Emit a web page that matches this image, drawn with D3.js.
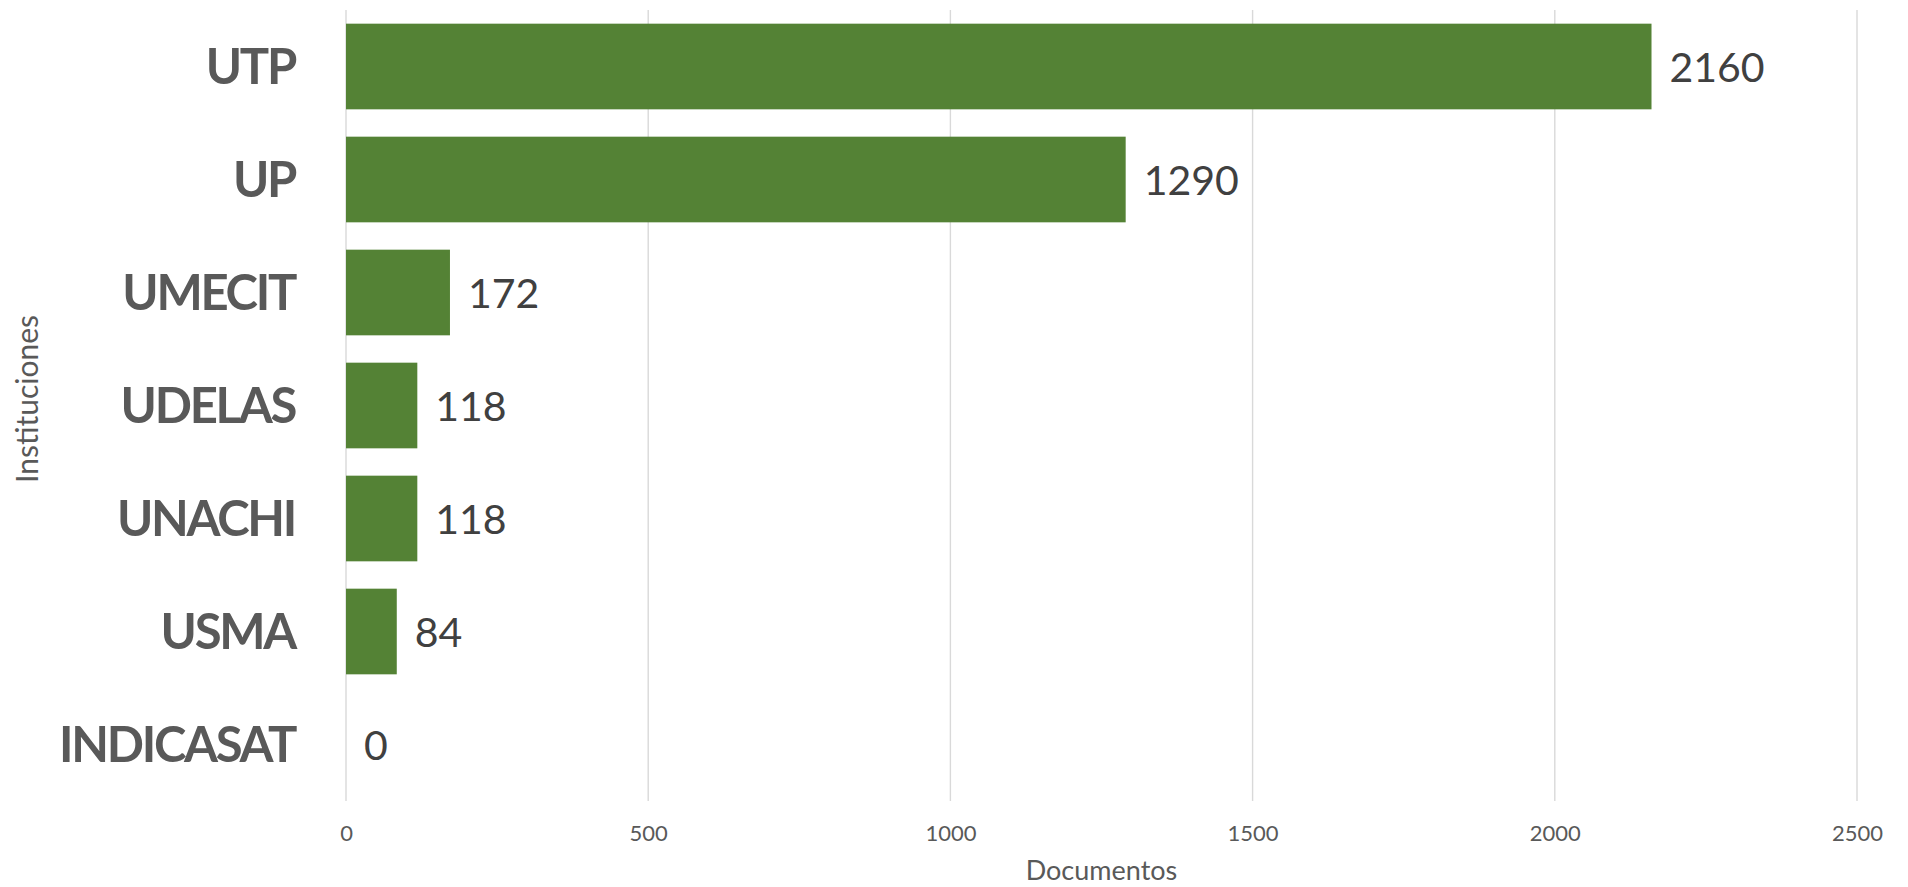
<!DOCTYPE html>
<html>
<head>
<meta charset="utf-8">
<script src="https://cdnjs.cloudflare.com/ajax/libs/d3/7.8.5/d3.min.js"></script>
<style>
  html, body { margin: 0; padding: 0; background: #ffffff; }
  svg { display: block; font-family: Lato, "Open Sans", sans-serif; }
</style>
</head>
<body>
<svg id="chart" width="1908" height="887"></svg>
<script>
// Documents per institution
const institutions = ["UTP", "UP", "UMECIT", "UDELAS", "UNACHI", "USMA", "INDICASAT"];
const documents = [2160, 1290, 172, 118, 118, 84, 0];
const xTicks = [0, 500, 1000, 1500, 2000, 2500];
const xTitle = "Documentos";
const yTitle = "Instituciones";

const rows = institutions.map((name, i) => ({ name, value: documents[i] }));

const svg = d3.select("#chart");
const plot = { left: 346, right: 1857, top: 10, bottom: 801 };

const x = d3.scaleLinear()
  .domain([0, 2500])
  .range([plot.left, plot.right]);

const y = d3.scaleBand()
  .domain(institutions)
  .range([plot.top, plot.bottom])
  .paddingInner(0.242)
  .paddingOuter(0.121);

// vertical gridlines
svg.append("g")
  .selectAll("line")
  .data(xTicks)
  .join("line")
  .attr("x1", d => x(d)).attr("x2", d => x(d))
  .attr("y1", plot.top).attr("y2", plot.bottom)
  .attr("stroke", "#d9d9d9")
  .attr("stroke-width", 1.4);

// bars
svg.append("g")
  .selectAll("rect")
  .data(rows)
  .join("rect")
  .attr("x", x(0))
  .attr("y", d => y(d.name))
  .attr("width", d => x(d.value) - x(0))
  .attr("height", y.bandwidth())
  .attr("fill", "#548235");

// value labels
svg.append("g")
  .selectAll("text")
  .data(rows)
  .join("text")
  .attr("x", d => x(d.value) + 18)
  .attr("y", d => y(d.name) + y.bandwidth() / 2)
  .attr("dy", "0.38em")
  .attr("font-size", 41)
  .attr("fill", "#404040")
  .text(d => d.value);

// category axis
const yAxis = svg.append("g")
  .attr("transform", `translate(${plot.left},0)`)
  .call(d3.axisLeft(y).tickSize(0).tickPadding(51));
yAxis.select(".domain").remove();
yAxis.selectAll("text")
  .attr("font-family", "Lato, 'Open Sans', sans-serif")
  .attr("font-size", 49)
  .attr("font-weight", 700)
  .attr("letter-spacing", -2.3)
  .attr("fill", "#595959")
  .attr("dy", "0.36em");

// value axis
const xAxis = svg.append("g")
  .attr("transform", `translate(0,${plot.bottom})`)
  .call(d3.axisBottom(x).tickValues(xTicks).tickFormat(d3.format("d")).tickSize(0).tickPadding(24));
xAxis.select(".domain").remove();
xAxis.selectAll("text")
  .attr("font-family", "Lato, 'Open Sans', sans-serif")
  .attr("font-size", 22)
  .attr("fill", "#595959");

// axis titles
svg.append("text")
  .attr("x", (plot.left + plot.right) / 2)
  .attr("y", 880)
  .attr("text-anchor", "middle")
  .attr("font-size", 27)
  .attr("fill", "#595959")
  .text(xTitle);

svg.append("text")
  .attr("transform", "translate(38,399) rotate(-90)")
  .attr("text-anchor", "middle")
  .attr("font-size", 30)
  .attr("fill", "#595959")
  .text(yTitle);
</script>
</body>
</html>
